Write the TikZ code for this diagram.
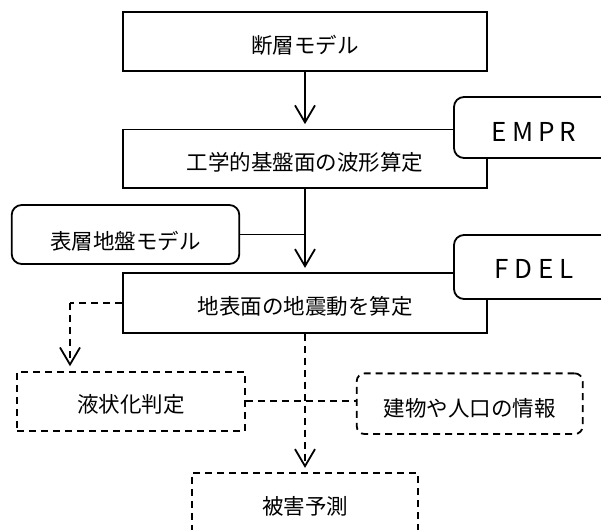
\documentclass[tikz,border=0pt]{standalone}
\usepackage{fontspec}
\usetikzlibrary{arrows.meta}
\newfontfamily\jpfont{Noto Sans CJK JP}
\tikzset{
  box/.style={draw, line width=1.8pt, fill=white, inner sep=0pt,
    text height=23pt, text depth=0pt,
    font={\jpfont\fontsize{21.5}{25}\selectfont}},
  bigbox/.style={box, minimum width=364pt, minimum height=59pt},
  sidebox/.style={box, rounded corners=10pt, minimum width=160pt, minimum height=62pt,
    font={\jpfont\fontsize{26}{30}\selectfont}},
  rbox/.style={box, rounded corners=10pt},
  dashbox/.style={box, dash pattern=on 7pt off 5pt},
  arr/.style={-{Straight Barb[length=17pt,width=20pt,line width=1.8pt]}, line width=1.8pt, shorten >=4.5pt},
  darr/.style={arr, dash pattern=on 7pt off 5pt},
  dline/.style={line width=1.8pt, dash pattern=on 7pt off 5pt},
  sline/.style={line width=1.8pt}
}
\begin{document}
\begin{tikzpicture}[x=1pt,y=-1pt]
\useasboundingbox (0,0) rectangle (601,529);
\clip (0,0) rectangle (601,529);
\fill[white] (0,0) rectangle (601,529);

% main solid boxes
\node[bigbox] (b1) at (305,41.6) {断層モデル};
\node[bigbox, minimum height=58.5pt] (b2) at (305,158.8) {工学的基盤面の波形算定};
\node[bigbox, minimum height=59.4pt] (b3) at (305,303) {地表面の地震動を算定};

% side rounded boxes
\node[sidebox, minimum height=61pt, text height=29pt] (empr) at (534,127.5) {E\hspace{5pt}M\hspace{5pt}P\hspace{5pt}R};
\node[sidebox, minimum height=64pt, text height=23pt] (fdel) at (534,267) {F\hspace{6pt}D\hspace{6pt}E\hspace{6pt}L};
\node[rbox, minimum width=227.6pt, minimum height=59pt, text height=29pt] (b4) at (125.5,234.5) {表層地盤モデル};

% dashed boxes
\node[dashbox, minimum width=227.7pt, minimum height=59.3pt] (b5) at (131.2,401.3) {液状化判定};
\node[dashbox, rounded corners=8pt, minimum width=226pt, minimum height=60.7pt, text height=25pt] (b6) at (469.7,403.7) {建物や人口の情報};
\node[dashbox, minimum width=226.7pt, minimum height=59pt] (b7) at (305,502.8) {被害予測};

% solid connectors
\draw[arr] (b1.south) -- (b2.north);
\draw[arr] (b2.south) -- (b3.north);
\draw[sline] (b4.east) -- (b4.east -| b2.south);

% dashed connectors
\coordinate (k) at (70,303);
\draw[dline] (b3.west) -- (k);
\draw[darr] (k) -- (k |- b5.north);
\draw[dline] (b5.east) -- (b5.east -| b6.west);
\draw[darr] (b3.south) -- (b7.north);
\end{tikzpicture}
\end{document}
